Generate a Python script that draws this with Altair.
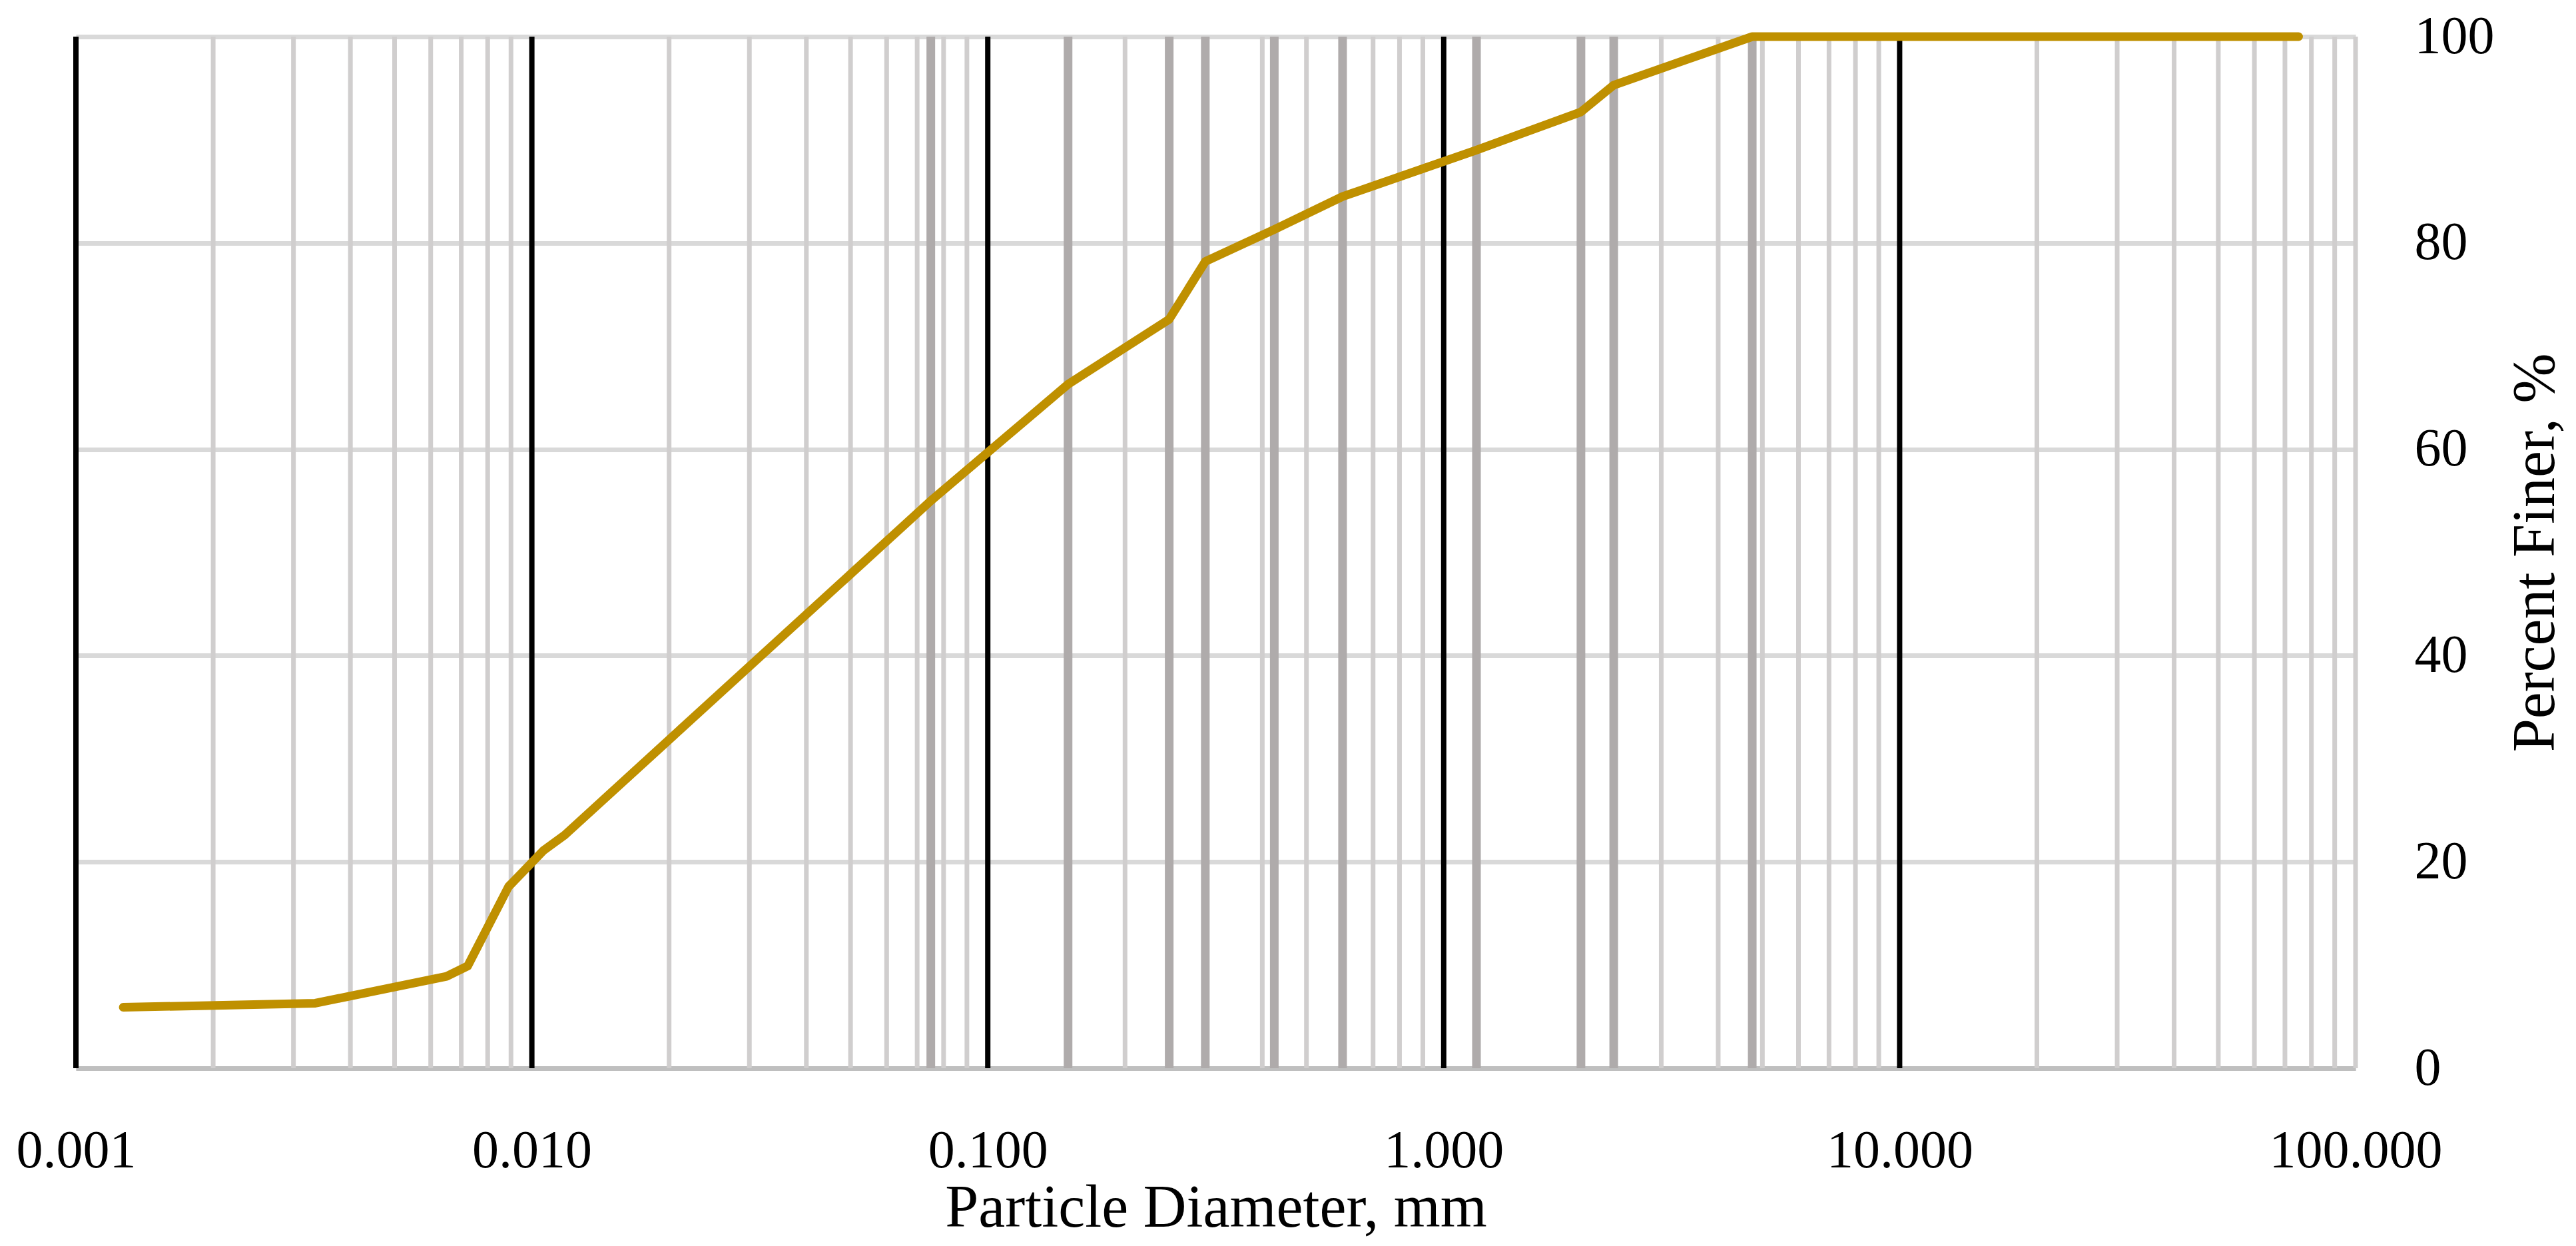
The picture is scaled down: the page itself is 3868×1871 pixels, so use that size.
import altair as alt
import pandas as pd

# Particle size distribution
diameter_mm = [0.00127, 0.00335, 0.0065, 0.00723, 0.00889, 0.0106, 0.0118,
               0.075, 0.15, 0.25, 0.30, 0.425, 0.60, 1.18, 2.0, 2.36, 4.75, 75.0]
percent_finer = [5.9, 6.3, 8.9, 9.9, 17.6, 21.1, 22.6,
                 55.0, 66.3, 72.6, 78.2, 81.3, 84.5, 89.0, 92.7, 95.3, 100.0, 100.0]

# Sieve sizes highlighted with darker grid lines
sieve_sizes = [0.075, 0.15, 0.25, 0.30, 0.425, 0.60, 1.18, 2.0, 2.36, 4.75]
# Decade lines (black)
decades = [0.001, 0.01, 0.1, 1.0, 10.0]
# Minor log grid lines
minor_lines = [m * 10.0 ** e for e in range(-3, 2) for m in range(2, 10)] + [100.0]

x_ticks = [0.001, 0.01, 0.1, 1.0, 10.0, 100.0]
y_ticks = [0, 20, 40, 60, 80, 100]

W, H = 3423, 1549
FONT = "Palatino Linotype, Book Antiqua, Palatino, Liberation Serif, serif"

xscale = alt.Scale(type="log", domain=[0.001, 100], nice=False)
yscale = alt.Scale(domain=[0, 100], nice=False, zero=True)

x_axis = alt.Axis(values=x_ticks, format=".3f", title="Particle Diameter, mm",
                  grid=False, ticks=False, tickSize=0, labelPadding=148,
                  labelBaseline="alphabetic", labelFontSize=80, labelFont=FONT,
                  labelColor="#000000", labelOverlap=False, labelFlush=False,
                  labelLimit=0,
                  domainColor="#BFBFBF", domainWidth=7,
                  titleFont=FONT, titleFontSize=90, titleFontWeight="normal",
                  titleColor="#000000", titleX=W / 2, titleY=237,
                  titleAlign="center", titleBaseline="alphabetic", titleLimit=0)
y_axis = alt.Axis(orient="right", values=y_ticks, title="Percent Finer, %",
                  grid=True, gridColor="#D9D9D9", gridWidth=7,
                  domain=False, ticks=False, tickSize=0, labelPadding=88,
                  labelFontSize=80, labelFont=FONT, labelColor="#000000",
                  labelAlign="left", labelBaseline="middle", labelLimit=0,
                  titleFont=FONT, titleFontSize=90, titleFontWeight="normal",
                  titleColor="#000000", titleAngle=270, titleX=297, titleY=H / 2,
                  titleAlign="center", titleBaseline="alphabetic", titleLimit=0)

def rules_df(vals):
    return pd.DataFrame({"d": vals, "lo": [0] * len(vals), "hi": [100] * len(vals)})

def rule_layer(vals, color, width):
    return alt.Chart(rules_df(vals)).mark_rule(color=color, strokeWidth=width).encode(
        x=alt.X("d:Q", scale=xscale, axis=x_axis),
        y=alt.Y("lo:Q", scale=yscale, axis=y_axis),
        y2="hi:Q",
    )

minor = rule_layer(minor_lines, "#D0CECE", 7)
sieve = rule_layer(sieve_sizes, "#AFABAB", 13)
major = rule_layer(decades, "#000000", 8)

df = pd.DataFrame({"d": diameter_mm, "p": percent_finer})
line = alt.Chart(df).mark_line(color="#BF9000", strokeWidth=13,
                                strokeCap="round", strokeJoin="round").encode(
    x=alt.X("d:Q", scale=xscale, axis=x_axis),
    y=alt.Y("p:Q", scale=yscale, axis=y_axis),
)

chart = alt.layer(minor, sieve, major, line).properties(
    width=W, height=H,
    autosize=alt.AutoSizeParams(type="none"),
    padding={"left": 106, "top": 47, "right": 320, "bottom": 255},
    background="#FFFFFF",
).configure_view(stroke=None)

chart.save("out.html", embed_options={"renderer": "svg", "actions": False})
